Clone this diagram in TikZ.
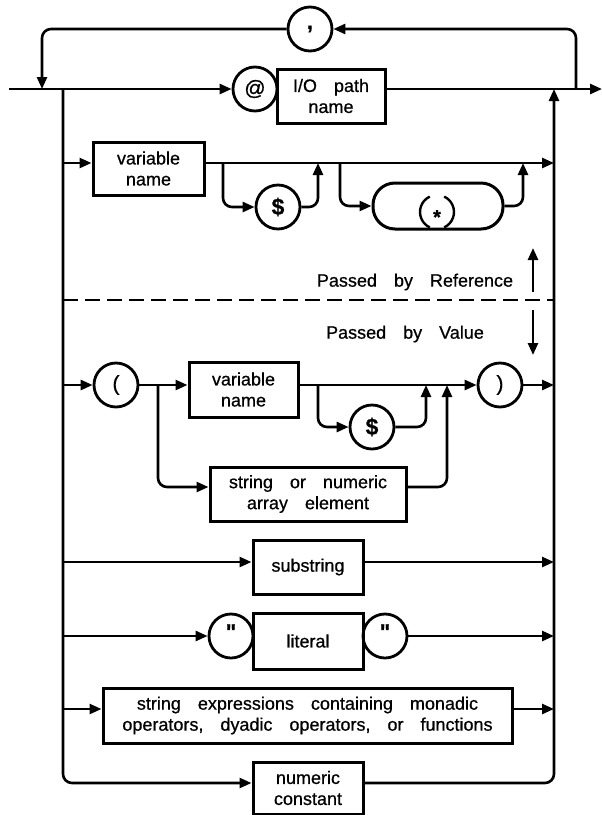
\documentclass[tikz,border=0pt]{standalone}
\usepackage{fontspec}
\setmainfont[WordSpace=3.4, FakeBold=0.7]{Liberation Sans}
\usetikzlibrary{arrows.meta}

\begin{document}
\begin{tikzpicture}[x=1pt,y=-1pt,
  font=\fontsize{18}{21}\selectfont,
  box/.style={draw, rectangle, line width=3pt, align=center, inner sep=0pt},
  term/.style={draw, circle, line width=2.8pt, minimum size=44pt, inner sep=0pt},
  wire/.style={line width=2.6pt, rounded corners=9pt},
  flow/.style={wire, -{Triangle[length=12pt,width=10pt]}}]
\useasboundingbox (0,0) rectangle (602,815);

% main line and the repeat loop
\coordinate (start) at (9,89);
\coordinate (loopL) at (42,89);
\coordinate (lbus) at (63,89);
\coordinate (rbus) at (554,89);
\coordinate (loopR) at (576,89);
\coordinate (finish) at (602,89);

\node[term, font=\fontsize{22}{22}\selectfont\bfseries] (sep) at (310,29) {,};
\node[term, font=\fontsize{21}{21}\selectfont] (at) at (255,89) {@};
\node[box, minimum width=108pt, minimum height=54pt] (iopath) at (331,96) {I/O path\\name};

\draw[flow] (start) -- (at);
\draw[flow] (iopath.east |- start) -- (finish);
\draw[flow] (loopR) |- (sep);
\draw[flow] (sep) -| (loopL);

% passed by reference
\coordinate (r1) at (63,163);
\coordinate (e1) at (554,163);
\coordinate (b1) at (223,163);
\coordinate (j1) at (318,163);
\coordinate (b2) at (340,163);
\coordinate (j2) at (523,163);

\node[box, minimum width=111pt, minimum height=53pt] (var1) at (148.5,168.5) {variable\\name};
\node[term, font=\fontsize{23}{23}\selectfont\bfseries] (dol1) at (278,207) {\$};
\node[box, rounded corners=22pt, minimum width=130pt, minimum height=46pt] (star) at (438,206) {};
\node[inner sep=0pt, font=\fontsize{20}{20}\selectfont\bfseries] (ast) at (437,217) {*};
\draw[line width=2.4pt] (437,212) ++(115:17pt) arc[start angle=115, end angle=245, radius=17pt];
\draw[line width=2.4pt] (437,212) ++(-65:17pt) arc[start angle=-65, end angle=65, radius=17pt];

\draw[flow] (r1) -- (var1.west |- r1);
\draw[flow] (var1.east |- r1) -- (e1);
\draw[flow] (b1) |- (dol1);
\draw[flow] (dol1) -| (j1);
\draw[flow] (b2) |- (star);
\draw[flow] (star) -| (j2);

% reference / value divider
\node (byref) at (415,282) {Passed by Reference};
\node (byval) at (405,334) {Passed by Value};
\coordinate (refA) at (533,292);
\coordinate (refB) at (533,248);
\coordinate (valA) at (533,310);
\coordinate (valB) at (533,355);
\coordinate (dashL) at (63,300);
\coordinate (dashR) at (554,300);
\draw[flow] (refA) -- (refB);
\draw[flow] (valA) -- (valB);
\draw[line width=2.4pt, dash pattern=on 15pt off 7pt] (dashL) -- (dashR);

% passed by value
\coordinate (r2) at (63,385);
\coordinate (e2) at (554,385);
\coordinate (b3) at (158,385);
\coordinate (b4) at (318,385);
\coordinate (j3) at (426,385);
\coordinate (j4) at (447,385);

\node[term, font=\fontsize{21}{21}\selectfont] (lpar) at (116,385) {(};
\node[box, minimum width=109pt, minimum height=55pt] (var2) at (243.5,389.5) {variable\\name};
\node[term, font=\fontsize{23}{23}\selectfont\bfseries] (dol2) at (372,427) {\$};
\node[term, font=\fontsize{21}{21}\selectfont] (rpar) at (500,385) {)};
\node[box, minimum width=196pt, minimum height=54pt] (array) at (308,494) {string or numeric\\array element};

\draw[flow] (r2) -- (lpar);
\draw[flow] (lpar) -- (var2.west |- r2);
\draw[flow] (var2.east |- r2) -- (rpar);
\draw[flow] (rpar) -- (e2);
\draw[flow] (b4) |- (dol2);
\draw[flow] (dol2) -| (j3);
\draw[flow] (b3) |- ([yshift=7pt]array.west);
\draw[flow] ([yshift=7pt]array.east) -| (j4);

% other items
\coordinate (r3) at (63,562);
\coordinate (e3) at (554,562);
\coordinate (r4) at (63,636);
\coordinate (e4) at (554,636);
\coordinate (r5) at (63,709);
\coordinate (e5) at (554,709);
\coordinate (r6) at (63,783);

\node[box, minimum width=110pt, minimum height=54pt] (substr) at (308,567) {substring};
\node[term, font=\fontsize{22}{22}\selectfont\bfseries, text depth=8pt] (q1) at (231,636) {\textquotedbl};
\node[box, minimum width=110pt, minimum height=56pt] (literal) at (308,641) {literal};
\node[term, font=\fontsize{22}{22}\selectfont\bfseries, text depth=8pt] (q2) at (385,636) {\textquotedbl};
\node[box, minimum width=409pt, minimum height=55pt] (strexpr) at (307.5,715.5) {string expressions containing monadic\\operators, dyadic operators, or functions};
\node[box, minimum width=110pt, minimum height=52pt] (numconst) at (308,788) {numeric\\constant};

\draw[flow] (r3) -- (substr.west |- r3);
\draw[flow] (substr.east |- r3) -- (e3);
\draw[flow] (r4) -- (q1);
\draw[flow] (q2) -- (e4);
\draw[flow] (r5) -- (strexpr.west |- r5);
\draw[flow] (strexpr.east |- r5) -- (e5);
\draw[flow] (lbus) |- (numconst.west |- r6);
\draw[flow] (numconst.east |- r6) -| (rbus);
\end{tikzpicture}
\end{document}
